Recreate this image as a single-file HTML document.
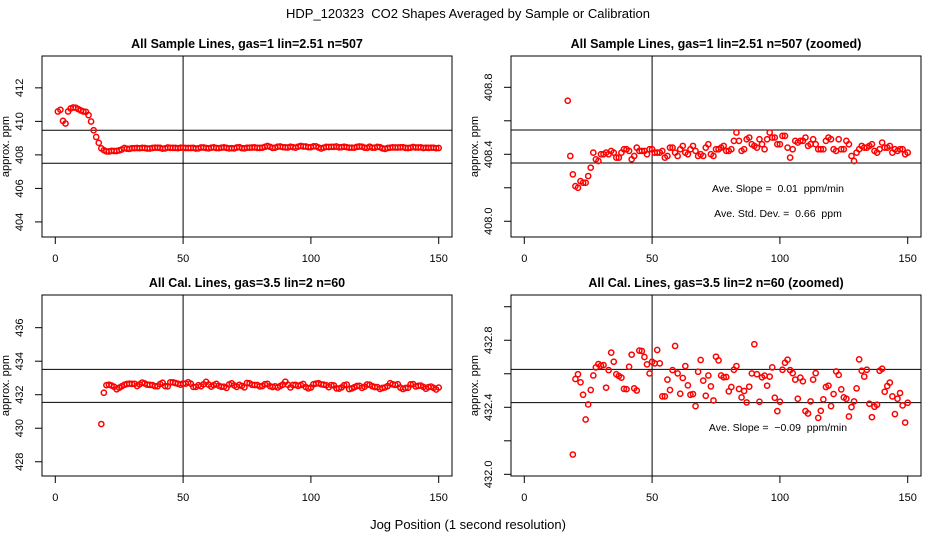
<!DOCTYPE html>
<html><head><meta charset="utf-8"><style>
html,body{margin:0;padding:0;background:#fff;}
svg{display:block;font-family:"Liberation Sans",sans-serif;}
svg text{white-space:pre;}
</style></head><body>
<svg id="chart" width="936" height="540" viewBox="0 0 936 540" xmlns="http://www.w3.org/2000/svg">
<rect width="936" height="540" fill="#fff"/>
<text x="468" y="18" text-anchor="middle" font-size="13">HDP_120323  CO2 Shapes Averaged by Sample or Calibration</text>
<text x="468" y="529" text-anchor="middle" font-size="13">Jog Position (1 second resolution)</text>
<g id="panels"></g>
</svg>
<script>
const sampleStartX = 1;
const sampleValues = [410.59,410.69,410.03,409.87,410.59,410.77,410.83,410.81,410.73,410.65,410.59,410.57,410.37,409.99,409.47,409.07,
408.72,408.39,408.28,408.21,408.20,408.24,408.23,408.23,408.27,408.32,408.41,408.37,408.36,408.40,408.40,408.41,408.40,408.42,408.41,408.38,408.38,408.41,408.43,408.43,408.42,408.37,408.39,408.44,408.42,408.42,408.42,408.40,408.43,408.43,408.41,408.41,408.41,408.42,408.38,408.39,408.44,408.44,408.41,408.39,408.43,408.45,408.41,408.40,408.43,408.45,408.42,408.39,408.40,408.39,408.44,408.46,408.40,408.39,408.43,408.43,408.44,408.45,408.42,408.42,408.43,408.48,408.53,408.48,408.42,408.43,408.49,408.50,408.46,408.45,408.44,408.49,408.46,408.43,408.49,408.53,408.50,408.50,408.46,408.46,408.51,408.51,408.44,408.38,408.43,408.48,408.47,408.48,408.48,408.50,408.45,408.46,408.49,408.46,408.43,408.43,408.43,408.48,408.50,408.49,408.43,408.42,408.49,408.43,408.43,408.48,408.46,408.39,408.36,408.41,408.43,408.45,408.44,408.44,408.45,408.46,408.42,408.41,408.43,408.47,408.44,408.44,408.45,408.41,408.43,408.42,408.43,408.43,408.40,408.41];
const calStartX = 18;
const calValues = [430.25,432.118,432.569,432.597,432.549,432.475,432.327,432.417,432.503,432.59,432.638,432.658,432.648,432.652,432.517,432.622,432.726,432.672,432.597,432.587,432.577,432.51,432.508,432.642,432.714,432.513,432.5,432.738,432.736,432.7,432.656,432.602,432.672,432.662,432.742,432.662,432.465,432.465,432.565,432.503,432.622,432.766,432.602,432.481,432.575,432.646,432.531,432.475,432.479,432.407,432.612,432.682,432.559,432.469,432.59,432.525,432.441,432.702,432.68,432.59,432.579,432.581,432.495,432.521,432.624,432.646,432.509,432.459,432.497,432.429,432.523,432.602,432.776,432.597,432.433,432.579,432.589,432.529,432.583,432.638,432.457,432.377,432.433,432.624,432.666,432.684,432.622,432.604,432.565,432.451,432.577,432.555,432.377,432.363,432.435,432.565,432.604,432.337,432.379,432.447,432.521,432.529,432.407,432.479,432.614,432.593,432.507,432.459,432.451,432.345,432.401,432.435,432.513,432.686,432.618,432.583,432.624,432.421,432.341,432.403,432.415,432.618,432.63,432.493,432.527,432.547,432.465,432.359,432.451,432.485,432.411,432.309,432.427];
const xTicks = [0,50,100,150];
const p1Ticks = [404,406,408,410,412];
const p2Ticks = [408.0,408.2,408.4,408.6,408.8];
const p2TickLabels = ["408.0","","408.4","","408.8"];
const p3Ticks = [428,430,432,434,436];
const p4Ticks = [432.0,432.2,432.4,432.6,432.8,433.0];
const p4TickLabels = ["432.0","","432.4","","432.8",""];
const p1HLines = [409.47,407.5];
const p2HLines = [408.545,408.348];
const p3HLines = [433.51,431.54];
const p4HLines = [432.626,432.428];
const vLineX = [50];

const NS="http://www.w3.org/2000/svg";
const root=document.getElementById('panels');
function mk(tag,attrs,parent){const e=document.createElementNS(NS,tag);for(const k in attrs)e.setAttribute(k,attrs[k]);(parent||root).appendChild(e);return e;}

function panel(cfg){
  const g=mk('g',{});
  
  
  const [L,R,T,B]=cfg.box;
  const sx=v=>L+(v-(-5.2))/(155.2-(-5.2))*(R-L);
  const sy=v=>B-(v-cfg.ylim[0])/(cfg.ylim[1]-cfg.ylim[0])*(B-T);
  const tt=mk('text',{x:(L+R)/2,y:T-8,'text-anchor':'middle','font-size':12.5,'font-weight':'bold'},g);
  tt.textContent=cfg.title;
  
  
  xTicks.forEach(t=>{
    const x=sx(t);
    mk('line',{x1:x,x2:x,y1:B,y2:B+7,stroke:'#000'},g);
    const lb=mk('text',{x:x,y:B+25,'text-anchor':'middle','font-size':11},g);
    lb.textContent=t;
    
    
  });
  mk('line',{x1:sx(xTicks[0]),x2:sx(xTicks[xTicks.length-1]),y1:B,y2:B,stroke:'#000'},g);
  cfg.yticks.forEach((t,i)=>{
    const y=sy(t);
    mk('line',{x1:L-7,x2:L,y1:y,y2:y,stroke:'#000'},g);
    const s=cfg.ylabels?cfg.ylabels[i]:String(t);
    if(s){
      const lb=mk('text',{x:0,y:0,'text-anchor':'middle','font-size':11,transform:`translate(${L-19},${y}) rotate(-90)`},g);
      lb.textContent=s;
      
      
    }
  });
  mk('line',{x1:L,x2:L,y1:sy(cfg.yticks[0]),y2:sy(cfg.yticks[cfg.yticks.length-1]),stroke:'#000'},g);
  const yl=mk('text',{x:0,y:0,'text-anchor':'middle','font-size':11,transform:`translate(${L-33},${(T+B)/2}) rotate(-90)`},g);
  yl.textContent='approx. ppm';
  
  
  mk('rect',{x:L,y:T,width:R-L,height:B-T,fill:'none',stroke:'#000'},g);
  cfg.hlines.forEach(h=>{const ln=mk('line',{x1:L,x2:R,y1:sy(h),y2:sy(h),stroke:'#000'},g);
    
    });
  vLineX.forEach(v=>{const ln=mk('line',{x1:sx(v),x2:sx(v),y1:T,y2:B,stroke:'#000'},g);
    
    });
  const cg=mk('g',{},g);
  cfg.values.forEach((v,i)=>{
    if(v<cfg.ylim[0]||v>cfg.ylim[1])return;
    const c=mk('circle',{cx:sx(cfg.x0+i),cy:sy(v),r:2.6,fill:'none',stroke:'#f00','stroke-width':1.5},cg);
    
    
  });
  (cfg.notes||[]).forEach(n=>{
    const t=mk('text',{x:778,y:n[1],'text-anchor':'middle','font-size':10.5},g);
    t.textContent=n[0];
    
    
  });
}
panel({name:'panel-sample-lines',box:[42,452,56,237],ylim:[403.1,413.9],yticks:p1Ticks,hlines:p1HLines,values:sampleValues,x0:sampleStartX,title:'All Sample Lines, gas=1 lin=2.51 n=507'});
panel({name:'panel-sample-lines-zoomed',box:[511,921,56,237],ylim:[407.906,408.987],yticks:p2Ticks,ylabels:p2TickLabels,hlines:p2HLines,values:sampleValues,x0:sampleStartX,title:'All Sample Lines, gas=1 lin=2.51 n=507 (zoomed)',notes:[['Ave. Slope =  0.01  ppm/min',192],['Ave. Std. Dev. =  0.66  ppm',217]]});
panel({name:'panel-cal-lines',box:[42,452,295,476],ylim:[427.15,437.95],yticks:p3Ticks,hlines:p3HLines,values:calValues,x0:calStartX,title:'All Cal. Lines, gas=3.5 lin=2 n=60'});
panel({name:'panel-cal-lines-zoomed',box:[511,921,295,476],ylim:[431.99,433.07],yticks:p4Ticks,ylabels:p4TickLabels,hlines:p4HLines,values:calValues,x0:calStartX,title:'All Cal. Lines, gas=3.5 lin=2 n=60 (zoomed)',notes:[['Ave. Slope =  \u22120.09  ppm/min',431]]});
</script>
</body></html>
